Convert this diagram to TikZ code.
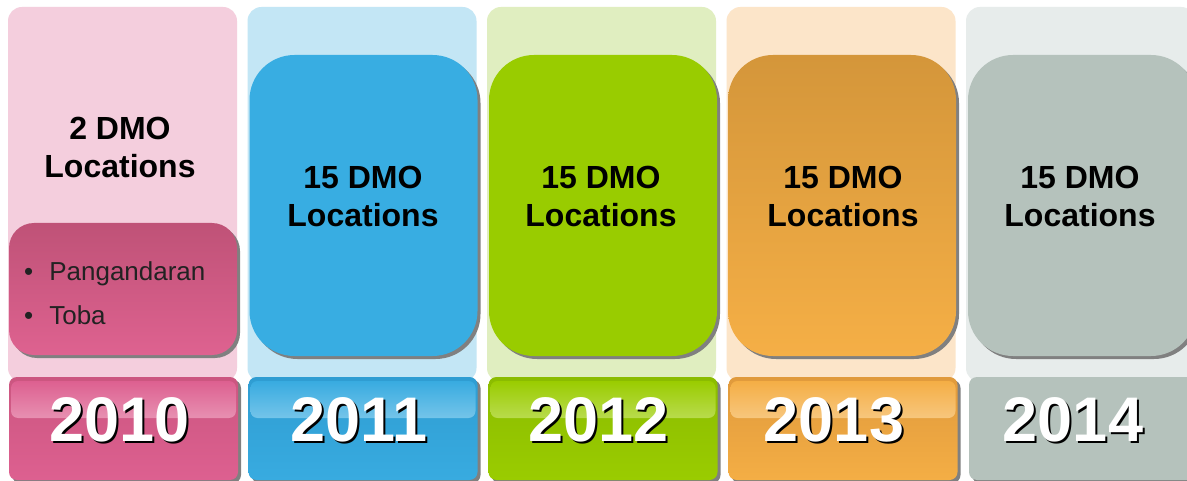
\documentclass[tikz,border=0pt]{standalone}
\usepackage{fontspec}
\setmainfont{Liberation Sans}
\usetikzlibrary{shadows}

\definecolor{pinkbg}{HTML}{F4CEDD}
\definecolor{pinktop}{HTML}{BF5277}
\definecolor{pinkbot}{HTML}{DE6290}
\definecolor{pinkyr}{HTML}{DD6090}
\definecolor{pinkdk}{HTML}{CB5680}
\definecolor{bluebg}{HTML}{C3E6F5}
\definecolor{bluecard}{HTML}{38ADE2}
\definecolor{blueyr}{HTML}{38ABE0}
\definecolor{bluedk}{HTML}{2F9DD2}
\definecolor{greenbg}{HTML}{E0EEC0}
\definecolor{greencard}{HTML}{99CC00}
\definecolor{greenyr}{HTML}{9ACC00}
\definecolor{greendk}{HTML}{8BBC00}
\definecolor{orangebg}{HTML}{FCE5C9}
\definecolor{orangetop}{HTML}{D4963A}
\definecolor{orangebot}{HTML}{F5AF46}
\definecolor{orangeyr}{HTML}{F4AE45}
\definecolor{orangedk}{HTML}{E09A3C}
\definecolor{graybg}{HTML}{E7ECEB}
\definecolor{graycard}{HTML}{B5C2BC}
\definecolor{bullettext}{HTML}{222222}

\begin{document}
\begin{tikzpicture}[x=1pt, y=-1pt,
    panel/.style={rectangle, rounded corners=14pt, minimum width=229pt, minimum height=375pt, inner sep=0pt},
    card/.style={rectangle, rounded corners=45pt, minimum width=228pt, minimum height=301pt, inner sep=0pt,
      drop shadow={shadow xshift=3pt, shadow yshift=-3pt, fill=black!50, opacity=1}},
    yearbox/.style={rectangle, rounded corners=8pt, minimum width=229pt, minimum height=103pt, inner sep=0pt,
      drop shadow={shadow xshift=3pt, shadow yshift=-3pt, fill=black!50, opacity=1}},
    gloss/.style={rectangle, rounded corners=7pt, minimum width=225pt, minimum height=37pt, inner sep=0pt},
    head/.style={align=center, font=\fontsize{32}{38}\selectfont\bfseries, inner sep=0pt},
    year/.style={font=\fontsize{63}{63}\selectfont\bfseries, inner sep=0pt},
    yearshadow/.style={year, text=black},
    bul/.style={anchor=west, font=\fontsize{26}{30}\selectfont, text=bullettext, inner sep=0pt}]

  \fill[white] (0,0) rectangle (1187,481);
  \useasboundingbox (0,0) rectangle (1187,481);
  \clip (0,0) rectangle (1187,481);

  % 2010
  \node[panel, fill=pinkbg] (bg10) at (122.5,194.5) {};
  \node[head] (h10) at (120,147) {2 DMO\\Locations};
  \node[card, rounded corners=25pt, minimum height=132pt, top color=pinktop, bottom color=pinkbot] (c10) at (123,289) {};
  \node[bul] (p1) at (24,274) {\textbullet\hspace{16pt}Pangandaran};
  \node[bul] (p2) at (24,315) {\textbullet\hspace{16pt}Toba};
  \node[yearbox, top color=pinkdk, bottom color=pinkyr] (yb10) at (123.5,428.5) {};
  \node[gloss, top color=pinkyr, bottom color=pinkyr!70!white] (g10) at (123.5,399.5) {};
  \node[yearshadow] (ys10) at (121.5,421.5) {2010};
  \node[year, text=white] (y10) at (119.5,419.5) {2010};

  % 2011
  \node[panel, fill=bluebg] (bg11) at (362,194.5) {};
  \node[card, fill=bluecard] (c11) at (363.5,205.5) {};
  \node[head] (h11) at (363,196) {15 DMO\\Locations};
  \node[yearbox, top color=bluedk, bottom color=blueyr] (yb11) at (363,428.5) {};
  \node[gloss, top color=blueyr, bottom color=blueyr!70!white] (g11) at (363,399.5) {};
  \node[yearshadow] (ys11) at (361,421.5) {2011};
  \node[year, text=white] (y11) at (359,419.5) {2011};

  % 2012
  \node[panel, fill=greenbg] (bg12) at (601.5,194.5) {};
  \node[card, fill=greencard] (c12) at (603,205.5) {};
  \node[head] (h12) at (601,196) {15 DMO\\Locations};
  \node[yearbox, top color=greendk, bottom color=greenyr] (yb12) at (603,428.5) {};
  \node[gloss, top color=greenyr, bottom color=greenyr!70!white] (g12) at (603,399.5) {};
  \node[yearshadow] (ys12) at (600.5,421.5) {2012};
  \node[year, text=white] (y12) at (598.5,419.5) {2012};

  % 2013
  \node[panel, fill=orangebg] (bg13) at (841,194.5) {};
  \node[card, top color=orangetop, bottom color=orangebot] (c13) at (842,205.5) {};
  \node[head] (h13) at (843,196) {15 DMO\\Locations};
  \node[yearbox, top color=orangedk, bottom color=orangeyr] (yb13) at (843,428.5) {};
  \node[gloss, top color=orangeyr, bottom color=orangeyr!70!white] (g13) at (843,399.5) {};
  \node[yearshadow] (ys13) at (836,421.5) {2013};
  \node[year, text=white] (y13) at (834,419.5) {2013};

  % 2014
  \node[panel, fill=graybg] (bg14) at (1080.5,194.5) {};
  \node[card, fill=graycard] (c14) at (1082,205.5) {};
  \node[head] (h14) at (1080,196) {15 DMO\\Locations};
  \node[yearbox, fill=graycard] (yb14) at (1083.5,428.5) {};
  \node[yearshadow] (ys14) at (1075,421.5) {2014};
  \node[year, text=white] (y14) at (1073,419.5) {2014};
\end{tikzpicture}
\end{document}
